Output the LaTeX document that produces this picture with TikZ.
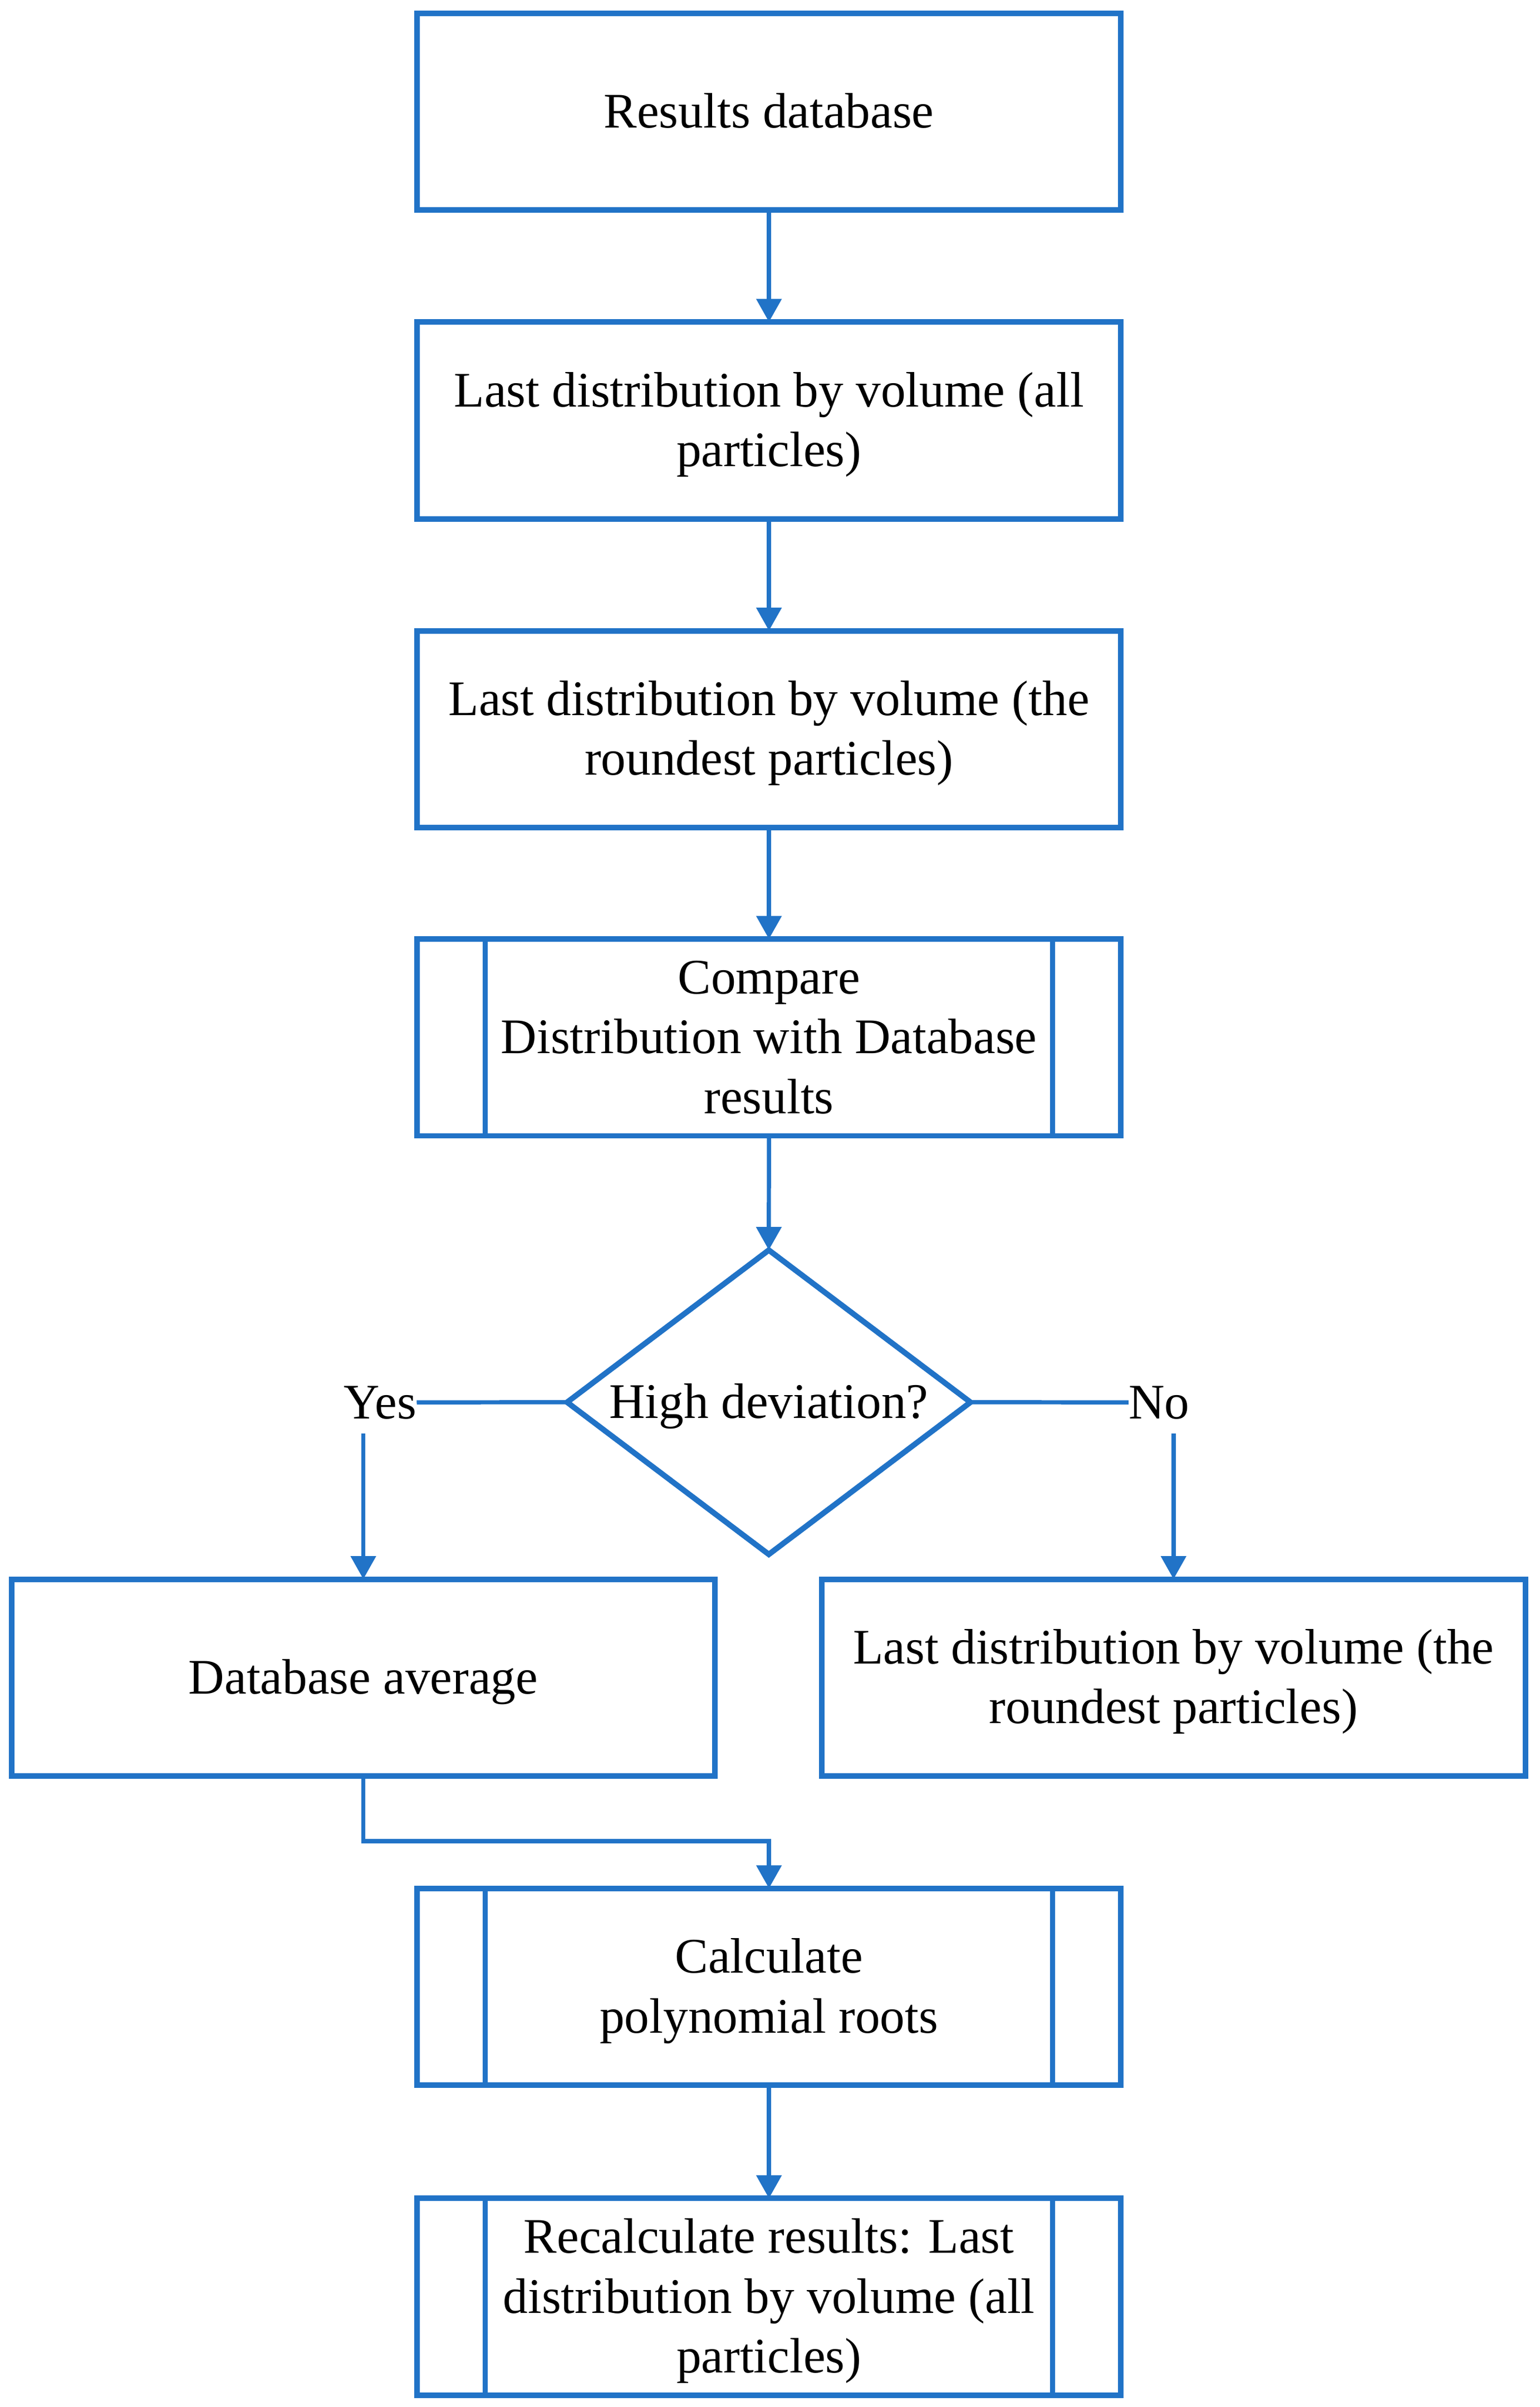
\documentclass[tikz,border=0pt]{standalone}
\usepackage{fontspec}
\setmainfont{Liberation Serif}
\usetikzlibrary{arrows.meta,shapes.geometric}
\definecolor{fblue}{RGB}{33,115,199}
\newcommand\lsx{\rule[-8.9pt]{0pt}{38.8pt}}
\begin{document}
\begin{tikzpicture}[x=1pt,y=1pt,
  txt/.style={font=\fontsize{32.3pt}{38.8pt}\selectfont, text=black, align=center},
  proc/.style={txt, draw=fblue, line width=3.6pt, minimum width=457pt, minimum height=127.8pt, inner sep=0pt, outer sep=0pt},
  dec/.style={txt, shape=diamond, draw=fblue, line width=3.6pt, aspect=1.326, minimum width=262pt, minimum height=197.6pt, inner sep=0pt, outer sep=0pt},
  lbl/.style={txt, inner xsep=0pt, inner ysep=0.5pt},
  arr/.style={draw=fblue, line width=2.7pt, -{Triangle[width=16pt,length=15pt]}},
  conn/.style={draw=fblue, line width=2.7pt},
  bar/.style={draw=fblue, line width=3.4pt}
]
\useasboundingbox (0,0) rectangle (1000,-1563.1);
\node[proc] (b1) at (499.5,-72.5) {\lsx Results database\lsx};
\node[proc] (b2) at (499.5,-273) {\lsx Last distribution by volume (all\\particles)\lsx};
\node[proc] (b3) at (499.5,-473.5) {\lsx Last distribution by volume (the\\roundest particles)\lsx};
\node[proc] (b4) at (499.5,-673.7) {\lsx Compare\\Distribution with Database\\results\lsx};
\node[dec] (dec) at (499.4,-910.6) {\lsx High deviation?\lsx};
\node[lbl] (yes) at (247,-910.7) {\lsx Yes\lsx};
\node[lbl] (no) at (753,-910.7) {\lsx No\lsx};
\node[proc] (b5) at (236,-1089.4) {\lsx Database average\lsx};
\node[proc] (b6) at (762.3,-1089.4) {\lsx Last distribution by volume (the\\roundest particles)\lsx};
\node[proc] (b7) at (499.5,-1290.2) {\lsx Calculate\\polynomial roots\lsx};
\node[proc] (b8) at (499.5,-1491.5) {\lsx Recalculate results: Last\\distribution by volume (all\\particles)\lsx};
\foreach \n in {b4,b7,b8}{
  \draw[bar] ([xshift=44.2pt]\n.north west) -- ([xshift=44.2pt]\n.south west);
  \draw[bar] ([xshift=-44.2pt]\n.north east) -- ([xshift=-44.2pt]\n.south east);
}
\draw[arr] (b1.south) -- (b2.north);
\draw[arr] (b2.south) -- (b3.north);
\draw[arr] (b3.south) -- (b4.north);
\draw[arr] (b4.south) -- (dec.north);
\draw[conn] (dec.west) -- (yes.east);
\draw[conn] (dec.east) -- (no.west);
\coordinate (ys) at (yes.south -| b5.north);
\coordinate (ns) at (no.south -| b6.north);
\draw[arr] (ys) -- (b5.north);
\draw[arr] (ns) -- (b6.north);
\coordinate (j) at (236,-1195.6);
\draw[arr] (b5.south) |- (j) -| (b7.north);
\draw[arr] (b7.south) -- (b8.north);
\end{tikzpicture}
\end{document}
